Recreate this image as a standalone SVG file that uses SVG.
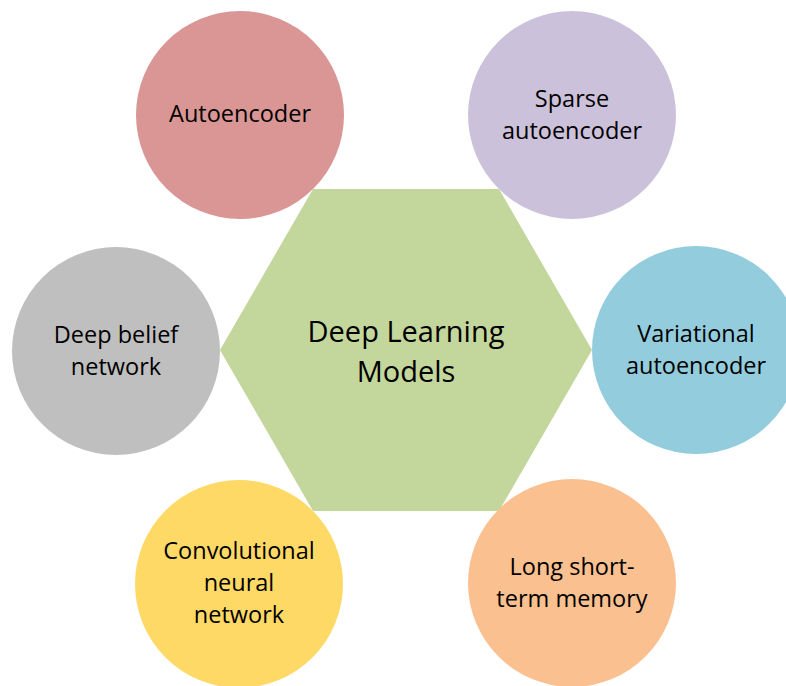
<svg xmlns="http://www.w3.org/2000/svg" width="786" height="686" viewBox="0 0 786 686">
<style>
text{font-family:"Open Sans","Noto Sans","Liberation Sans",sans-serif;fill:#000;text-anchor:middle}
.s{font-size:23.5px}
.c{font-size:29px}
</style>
<rect width="786" height="686" fill="#fff"/>
<g id="connectors"/>
<g id="hub">
<polygon points="220,350 313,189 499,189 592,350 499,511 313,511" fill="#C3D69B"/>
<text class="c" x="406" y="342">Deep Learning</text>
<text class="c" x="406" y="382">Models</text>
</g>
<g id="autoencoder">
<circle cx="240" cy="115" r="104" fill="#D99694"/>
<text class="s" x="240" y="122">Autoencoder</text>
</g>
<g id="sparse">
<circle cx="572" cy="115" r="104" fill="#CCC1DA"/>
<text class="s" x="572" y="107">Sparse</text>
<text class="s" x="572" y="139">autoencoder</text>
</g>
<g id="dbn">
<circle cx="116" cy="351" r="104" fill="#BFBFBF"/>
<text class="s" x="116" y="343">Deep belief</text>
<text class="s" x="116" y="375">network</text>
</g>
<g id="vae">
<circle cx="696" cy="350" r="104" fill="#93CDDD"/>
<text class="s" x="696" y="342">Variational</text>
<text class="s" x="696" y="374">autoencoder</text>
</g>
<g id="cnn">
<circle cx="239" cy="584" r="104" fill="#FFD966"/>
<text class="s" x="239" y="559">Convolutional</text>
<text class="s" x="239" y="591">neural</text>
<text class="s" x="239" y="623">network</text>
</g>
<g id="lstm">
<circle cx="572" cy="583" r="104" fill="#FAC090"/>
<text class="s" x="572" y="575">Long short-</text>
<text class="s" x="572" y="607">term memory</text>
</g>
</svg>
